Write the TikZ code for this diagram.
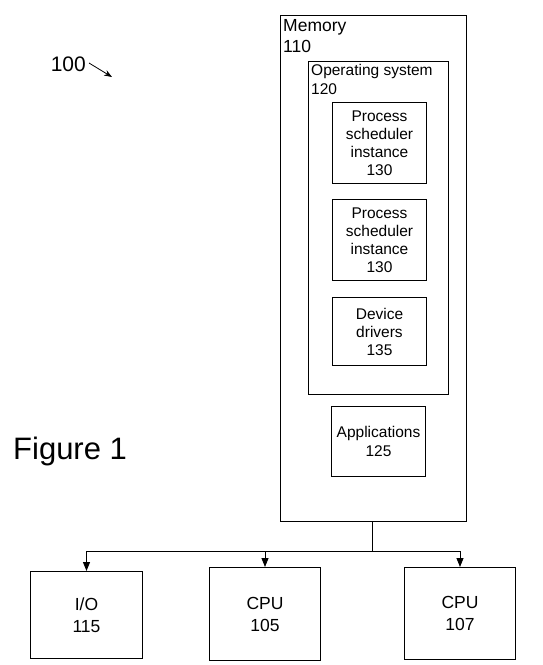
\documentclass[tikz,border=0pt]{standalone}
\usepackage{fontspec}
\setmainfont{Liberation Sans}
\usetikzlibrary{arrows.meta}
\begin{document}
\begin{tikzpicture}[x=1pt,y=-1pt,
  box/.style={draw,line width=1pt,inner sep=0pt,anchor=north west,align=center},
  lbl/.style={inner sep=0pt,anchor=north west,align=left},
  arr/.style={line width=0.8pt,-{Triangle[length=9pt,width=7pt]}},
  wire/.style={line width=0.8pt}]
\useasboundingbox (0,0) rectangle (542,665);
% Memory
\node[box,minimum width=186pt,minimum height=506pt] (mem) at (280,15) {};
\node[lbl,font=\fontsize{17.5}{21}\selectfont] (memlbl) at (283,19.5) {Memory\\110};
% Operating system
\node[box,minimum width=140pt,minimum height=333pt] (os) at (308,61) {};
\node[lbl,font=\fontsize{15.5}{19}\selectfont] (oslbl) at (311,64) {Operating system\\120};
% inner boxes
\node[box,minimum width=94pt,minimum height=81pt,font=\fontsize{15.5}{18}\selectfont] (ps1) at (332,102) {Process\\scheduler\\instance\\130};
\node[box,minimum width=94pt,minimum height=81pt,font=\fontsize{15.5}{18}\selectfont] (ps2) at (332,199) {Process\\scheduler\\instance\\130};
\node[box,minimum width=94pt,minimum height=68pt,font=\fontsize{15.5}{18}\selectfont] (dd) at (332,297) {Device\\drivers\\135};
\node[box,minimum width=94pt,minimum height=70pt,font=\fontsize{15.5}{19}\selectfont] (app) at (331,406) {Applications\\125};
% bottom boxes
\node[box,minimum width=112pt,minimum height=87pt,font=\fontsize{17.5}{22}\selectfont] (io) at (30,571) {I/O\\115};
\node[box,minimum width=111pt,minimum height=93pt,font=\fontsize{17.5}{22}\selectfont] (cpua) at (209,567) {CPU\\105};
\node[box,minimum width=111pt,minimum height=92pt,font=\fontsize{17.5}{22}\selectfont] (cpub) at (404,567) {CPU\\107};
% connectors
\coordinate (bus) at (372,551);
\draw[wire] (mem.south -| bus) -- (bus);
\draw[arr] (bus) -| (io.north);
\draw[arr] (bus) -| (cpua.north);
\draw[arr] (bus) -| (cpub.north);
% labels
\node[inner sep=0pt,font=\fontsize{21}{25}\selectfont,anchor=east] (n100) at (86,64) {100};
\coordinate (p100) at (112,77);
\draw[line width=0.8pt,-{Stealth[length=8pt,width=6pt]}] (n100.east) ++(3,-1) coordinate (s100) -- (p100);
\node[inner sep=0pt,font=\fontsize{31}{36}\selectfont,anchor=west] (fig) at (13,451) {Figure 1};
\end{tikzpicture}
\end{document}
